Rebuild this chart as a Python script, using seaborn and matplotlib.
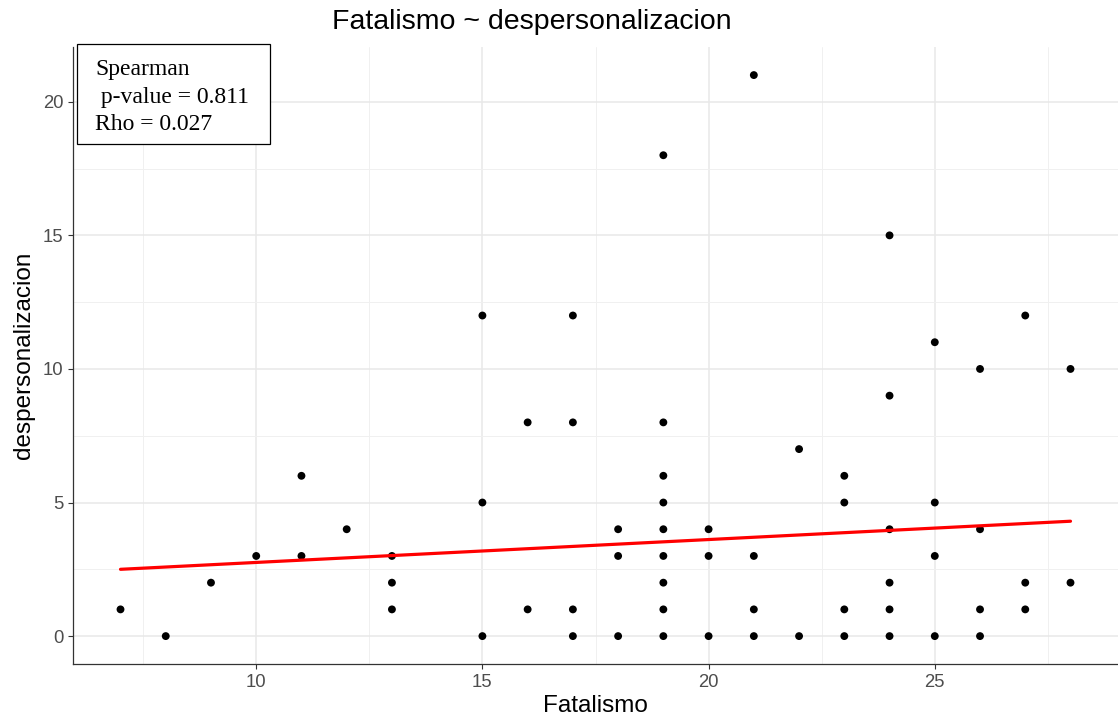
import numpy as np
import pandas as pd
import seaborn as sns
import matplotlib.pyplot as plt
from matplotlib.patches import Rectangle
from matplotlib.ticker import MultipleLocator

# values, one point per (Fatalismo, despersonalizacion) pair
fatalismo = [7, 8, 9, 10, 11, 11, 12, 13, 13, 13,
             15, 15, 15, 16, 16, 17, 17, 17, 17,
             18, 18, 18, 19, 19, 19, 19, 19, 19, 19, 19, 19,
             20, 20, 20, 21, 21, 21, 21, 22, 22,
             23, 23, 23, 23, 24, 24, 24, 24, 24, 24,
             25, 25, 25, 25, 26, 26, 26, 26, 27, 27, 27, 28, 28]
despers = [1, 0, 2, 3, 6, 3, 4, 3, 2, 1,
           12, 5, 0, 8, 1, 12, 8, 1, 0,
           4, 3, 0, 18, 8, 6, 5, 4, 3, 2, 1, 0,
           4, 3, 0, 21, 3, 1, 0, 7, 0,
           6, 5, 1, 0, 15, 9, 4, 2, 1, 0,
           11, 5, 3, 0, 10, 4, 1, 0, 12, 2, 1, 10, 2]
# linear fit as drawn in the reference (overlapping points are hidden there)
fit_x = [7, 28]
fit_y = [2.5, 4.3]
stats_lines = ["Spearman", " p-value = 0.811", "Rho = 0.027"]

df = pd.DataFrame({'Fatalismo': fatalismo, 'despersonalizacion': despers})
fit = pd.DataFrame({'x': fit_x, 'y': fit_y})

sns.set_style("white")
plt.rcParams['font.family'] = ['Liberation Sans', 'DejaVu Sans']
plt.rcParams['text.color'] = 'black'
plt.rcParams['axes.labelcolor'] = 'black'

fig = plt.figure(figsize=(11.18, 7.18), dpi=100)
ax = fig.add_axes([0.0653, 0.075, 0.9347, 0.8595])

sns.scatterplot(data=df, x='Fatalismo', y='despersonalizacion', color='black',
                s=32, edgecolor='none', ax=ax, zorder=3)
sns.lineplot(data=fit, x='x', y='y', color='red', linewidth=2.3, ax=ax, zorder=4)

ax.set_xlim(5.95, 29.05)
ax.set_ylim(-1.05, 22.05)
ax.xaxis.set_major_locator(MultipleLocator(5))
ax.xaxis.set_minor_locator(MultipleLocator(2.5))
ax.yaxis.set_major_locator(MultipleLocator(5))
ax.yaxis.set_minor_locator(MultipleLocator(2.5))
ax.grid(True, which='major', color='#e8e8e8', linewidth=1.1)
ax.grid(True, which='minor', color='#f0f0f0', linewidth=0.7)
ax.set_axisbelow(True)

for side in ['top', 'right']:
    ax.spines[side].set_visible(False)
for side in ['left', 'bottom']:
    ax.spines[side].set_color('#333333')
    ax.spines[side].set_linewidth(0.9)

ax.tick_params(which='major', length=3.8, color='#333333', labelsize=13.3,
               labelcolor='#4d4d4d', left=True, bottom=True, pad=3)
ax.tick_params(which='minor', length=0)
ax.set_xlabel('Fatalismo', fontsize=17.5, labelpad=3)
ax.set_ylabel('despersonalizacion', fontsize=17.5, labelpad=6)

fig.text(0.476, 0.969, 'Fatalismo ~ despersonalizacion', ha='center', va='center',
         fontsize=20.5)

# stats box
fig.patches.append(Rectangle((77 / 1118, 1 - 144 / 718), 193 / 1118, 100 / 718,
                             transform=fig.transFigure, facecolor='white',
                             edgecolor='black', linewidth=0.9, zorder=5))
ys = [70, 97, 125]
for line, yy in zip(stats_lines, ys):
    fig.text(95 / 1118, 1 - yy / 718, line, ha='left', va='center',
             fontsize=17, family='Liberation Serif', zorder=6)

plt.savefig('out.png', dpi=100)
